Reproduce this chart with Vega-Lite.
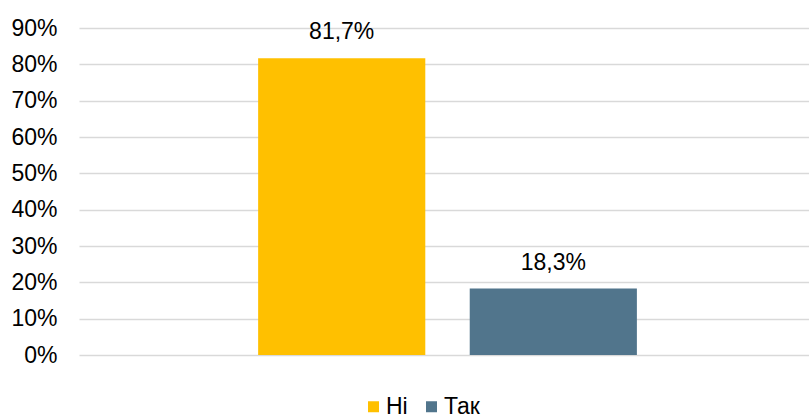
{
  "$schema": "https://vega.github.io/schema/vega-lite/v6.json",
  "autosize": "none",
  "width": 730,
  "height": 327,
  "padding": {"left": 79, "top": 28, "right": 0, "bottom": 60},
  "background": "white",
  "config": {"view": {"stroke": null}, "font": "Liberation Sans"},
  "data": {"values": [
    {"answer": "Ні", "value": 81.7, "label": "81,7%"},
    {"answer": "Так", "value": 18.3, "label": "18,3%"}
  ]},
  "encoding": {
    "x": {"field": "answer", "type": "nominal", "sort": ["Ні", "Так"],
      "scale": {"paddingInner": 0.21, "paddingOuter": 0.83, "align": 0.51},
      "axis": null},
    "y": {"field": "value", "type": "quantitative",
      "scale": {"domain": [0, 90], "nice": false},
      "axis": {"values": [0,10,20,30,40,50,60,70,80,90], "labelExpr": "datum.value + '%'",
        "title": null, "domain": false, "ticks": false, "labelPadding": 22,
        "labelFontSize": 23, "labelColor": "#000000", "labelFont": "Liberation Sans",
        "gridColor": "#D9D9D9", "gridWidth": 1.3}}
  },
  "layer": [
    {"mark": {"type": "bar"},
      "encoding": {"color": {"field": "answer", "type": "nominal", "sort": ["Ні", "Так"],
        "scale": {"domain": ["Ні", "Так"], "range": ["#FFC000", "#51758C"]},
        "legend": {"title": null, "orient": "none", "direction": "horizontal",
          "legendX": 283, "legendY": 367, "symbolType": "square", "symbolSize": 121,
          "symbolStrokeWidth": 0, "labelFontSize": 23, "labelColor": "#000000",
          "labelFont": "Liberation Sans", "labelOffset": 1, "columnPadding": 12}}}},
    {"mark": {"type": "text", "fontSize": 23, "color": "#000000", "baseline": "alphabetic", "dy": -19, "font": "Liberation Sans"},
      "encoding": {"text": {"field": "label"}}}
  ]
}
